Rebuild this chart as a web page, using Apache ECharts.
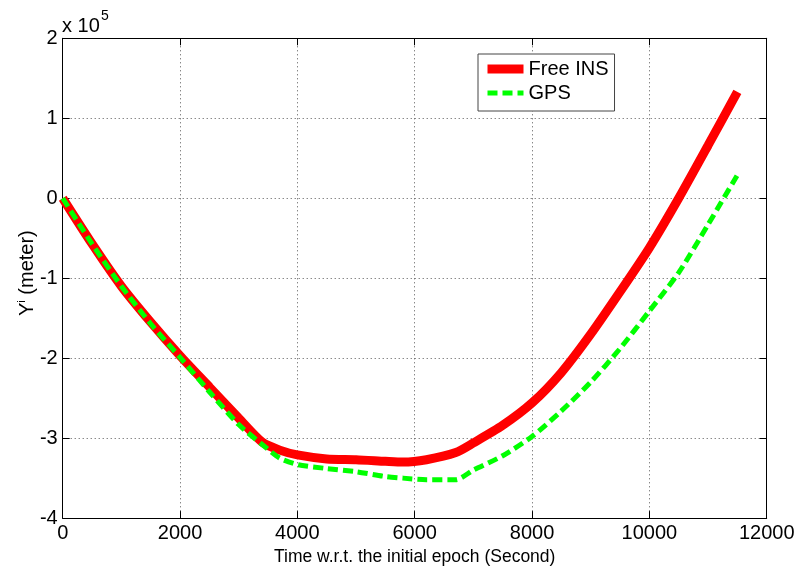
<!DOCTYPE html>
<html>
<head>
<meta charset="utf-8">
<script src="https://cdn.jsdelivr.net/npm/echarts@6/dist/echarts.min.js"></script>
<style>
html,body{margin:0;padding:0;background:#fff;}
#chart{width:799px;height:571px;}
</style>
</head>
<body>
<div id="chart"></div>
<script>
// values in units of 1e5 meter
const times = [0, 500, 1000, 1500, 2000, 2500, 3000, 3400, 3700, 4000, 4500, 5000, 5500, 5800, 6200, 6700, 7000, 7500, 8000, 8500, 9000, 9500, 10000, 10500, 11000, 11500];
const freeIns = [0, -0.57, -1.1, -1.55, -1.97, -2.36, -2.75, -3.05, -3.15, -3.21, -3.26, -3.27, -3.29, -3.30, -3.27, -3.18, -3.06, -2.84, -2.56, -2.18, -1.70, -1.17, -0.62, 0.0, 0.66, 1.33];
const gps = [0, -0.57, -1.1, -1.57, -1.99, -2.42, -2.83, -3.08, -3.25, -3.33, -3.38, -3.42, -3.48, -3.50, -3.52, -3.52, -3.40, -3.22, -2.98, -2.66, -2.30, -1.88, -1.41, -0.93, -0.33, 0.29];
const seriesNames = ['Free INS', 'GPS'];

const font = 'Liberation Sans';
let chart = echarts.init(document.getElementById('chart'));

function pairs(ys){
    return times.map((t, i) => [t, ys[i]]);
}

let gridLine = {show: true, lineStyle: {color: '#555', type: [1, 3], width: 1}};
let blackLine = {show: true, onZero: false, lineStyle: {color: '#000', width: 1}};
let ticks = {show: true, inside: true, length: 7, lineStyle: {color: '#000'}};

let option = {
    animation: false,
    backgroundColor: '#fff',
    grid: {left: 62.7, right: 32.3, top: 38.3, bottom: 50.7},
    legend: {
        data: seriesNames,
        orient: 'vertical',
        left: 478,
        top: 54,
        padding: [5, 6, 8, 5],
        itemGap: 4,
        itemWidth: 36,
        itemHeight: 14,
        backgroundColor: '#fff',
        borderColor: '#444',
        borderWidth: 1,
        itemStyle: {opacity: 0},
        lineStyle: {width: 'inherit', type: 'inherit'},
        textStyle: {fontFamily: font, fontSize: 20, color: '#000', lineHeight: 20}
    },
    xAxis: [{
        type: 'value',
        min: 0, max: 12000, interval: 2000,
        name: 'Time w.r.t. the initial epoch (Second)',
        nameLocation: 'middle',
        nameGap: 17,
        nameTextStyle: {fontFamily: font, fontSize: 17.5, color: '#000'},
        axisLine: blackLine,
        axisTick: ticks,
        axisLabel: {fontFamily: font, fontSize: 20, color: '#000', margin: 5, formatter: v => String(v)},
        splitLine: gridLine
    }, {
        type: 'value',
        position: 'top',
        min: 0, max: 12000, interval: 2000,
        axisLine: blackLine,
        axisTick: ticks,
        axisLabel: {show: false},
        splitLine: {show: false}
    }],
    yAxis: [{
        type: 'value',
        min: -4, max: 2, interval: 1,
        axisLine: blackLine,
        axisTick: ticks,
        axisLabel: {fontFamily: font, fontSize: 20, color: '#000', margin: 5, formatter: v => String(v)},
        splitLine: gridLine
    }, {
        type: 'value',
        position: 'right',
        min: -4, max: 2, interval: 1,
        axisLine: blackLine,
        axisTick: ticks,
        axisLabel: {show: false},
        splitLine: {show: false}
    }],
    graphic: [
        {
            type: 'text', left: 62, top: 16,
            style: {text: 'x 10', fontFamily: font, fontSize: 20, fill: '#000'}
        },
        {
            type: 'text', left: 101, top: 9,
            style: {text: '5', fontFamily: font, fontSize: 14, fill: '#000'}
        },
        {
            type: 'text', x: 16, y: 316, rotation: Math.PI / 2,
            style: {
                text: '{a|Y}{b|i}{a| (meter)}',
                rich: {
                    a: {fontFamily: font, fontSize: 20, fill: '#000', lineHeight: 22},
                    b: {fontFamily: font, fontSize: 11, fill: '#000', lineHeight: 22, padding: [0, 0, 11, 0]}
                }
            }
        }
    ],
    series: [
        {
            name: seriesNames[0],
            type: 'line',
            data: pairs(freeIns),
            showSymbol: false,
            symbol: 'none',
            smooth: 0.25,
            lineStyle: {color: '#ff0000', width: 9, cap: 'butt'},
            itemStyle: {color: '#ff0000'}
        },
        {
            name: seriesNames[1],
            type: 'line',
            data: pairs(gps),
            showSymbol: false,
            symbol: 'none',
            smooth: 0.25,
            lineStyle: {color: '#00ff00', width: 5, type: [10, 5]},
            itemStyle: {color: '#00ff00'}
        }
    ]
};
chart.setOption(option);
</script>
</body>
</html>
